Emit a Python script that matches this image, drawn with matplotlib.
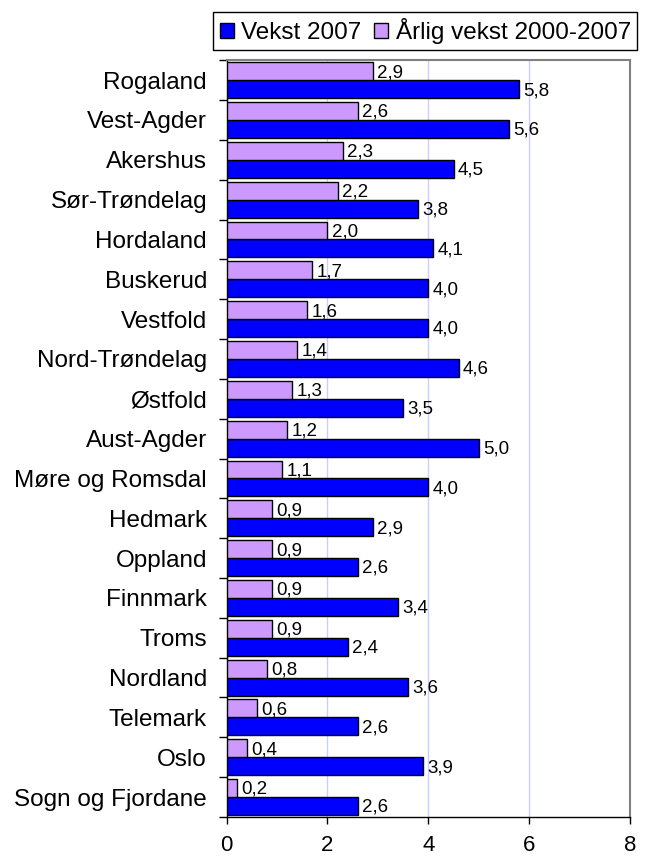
import numpy as np
import matplotlib.pyplot as plt
from matplotlib.ticker import MultipleLocator, FixedLocator

plt.rcParams['font.family'] = ['Liberation Sans', 'DejaVu Sans']

fylker = ['Rogaland', 'Vest-Agder', 'Akershus', 'Sør-Trøndelag', 'Hordaland',
          'Buskerud', 'Vestfold', 'Nord-Trøndelag', 'Østfold', 'Aust-Agder',
          'Møre og Romsdal', 'Hedmark', 'Oppland', 'Finnmark', 'Troms',
          'Nordland', 'Telemark', 'Oslo', 'Sogn og Fjordane']
vekst_2007 = [5.8, 5.6, 4.5, 3.8, 4.1, 4.0, 4.0, 4.6, 3.5, 5.0,
              4.0, 2.9, 2.6, 3.4, 2.4, 3.6, 2.6, 3.9, 2.6]
aarlig_vekst = [2.9, 2.6, 2.3, 2.2, 2.0, 1.7, 1.6, 1.4, 1.3, 1.2,
                1.1, 0.9, 0.9, 0.9, 0.9, 0.8, 0.6, 0.4, 0.2]

fig = plt.figure(figsize=(6.49, 8.57), dpi=100)
ax = fig.add_axes([0.349, 0.0467, 0.622, 0.883])

y = np.arange(len(fylker))
h = 0.45

b1 = ax.barh(y + h / 2, vekst_2007, height=h, color='#0000ff',
             edgecolor='black', linewidth=1, label='Vekst 2007', zorder=3)
b2 = ax.barh(y - h / 2, aarlig_vekst, height=h, color='#cc99ff',
             edgecolor='black', linewidth=1, label='Årlig vekst 2000-2007', zorder=3)

for bars, vals in ((b1, vekst_2007), (b2, aarlig_vekst)):
    for bar, v in zip(bars, vals):
        ax.annotate(f'{v:.1f}'.replace('.', ','),
                    (bar.get_width(), bar.get_y() + bar.get_height() / 2),
                    xytext=(3, -1), textcoords='offset points',
                    va='center', ha='left', fontsize=13.5)

ax.set_xlim(0, 8)
ax.set_ylim(len(fylker) - 0.5, -0.5)
ax.xaxis.set_major_locator(MultipleLocator(2))
ax.set_yticks(y)
ax.set_yticklabels(fylker, fontsize=17.5)
ax.yaxis.set_minor_locator(FixedLocator(np.arange(-0.5, len(fylker), 1)))
ax.tick_params(axis='y', which='major', length=0, pad=14)
ax.tick_params(axis='y', which='minor', length=6, width=1, direction='out')
ax.tick_params(axis='x', length=5, width=1, direction='out', labelsize=16, pad=8)

ax.grid(axis='x', color='#ccccff', linewidth=1, zorder=0)
for side in ('top', 'right'):
    ax.spines[side].set_color('#808080')
    ax.spines[side].set_linewidth(1.5)
ax.spines['left'].set_linewidth(1)
ax.spines['bottom'].set_linewidth(1)

leg = fig.legend(handles=[b1, b2], loc='upper right',
                 bbox_to_anchor=(637 / 649, 1 - 12 / 857), ncol=2,
                 fontsize=17.5, frameon=True, fancybox=False, framealpha=1,
                 edgecolor='black', handlelength=0.6, handleheight=0.6,
                 handletextpad=0.3, columnspacing=0.5, borderpad=0.25,
                 borderaxespad=0)
leg.get_frame().set_linewidth(1)

fig.savefig('out.png', dpi=100)
